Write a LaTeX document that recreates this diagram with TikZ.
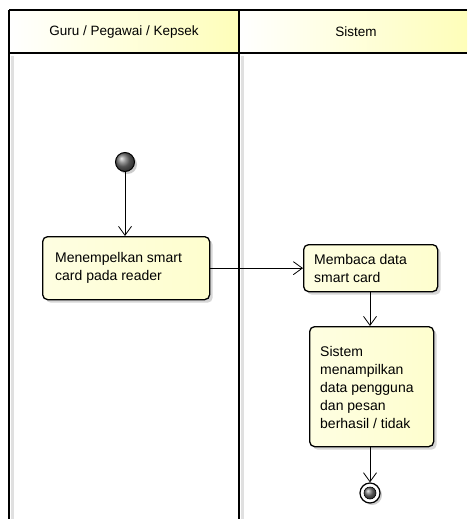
\documentclass[tikz,border=0pt]{standalone}
\usepackage{fontspec}
\setmainfont{Liberation Sans}
\usetikzlibrary{arrows.meta,shadows,positioning}
\definecolor{umlyellow}{HTML}{FEFECE}
\tikzset{
  lane/.style={line width=1.8pt,black},
  hdr/.style={left color=white,right color=umlyellow!90!yellow,draw=none},
  act/.style={draw=black,line width=1.3pt,rounded corners=5pt,left color=umlyellow!60,right color=umlyellow,
     align=left,anchor=north west,inner sep=0pt,
     drop shadow={shadow xshift=3pt,shadow yshift=-3pt,fill=black!20,opacity=0.8}},
  txt/.style={anchor=north west,align=left,inner sep=0pt,font=\fontsize{14}{18}\selectfont},
  flow/.style={-{Straight Barb[length=9pt,width=13pt,line width=0.8pt]},line width=0.8pt,black},
  lbl/.style={font=\fontsize{13.5}{16}\selectfont}
}
\begin{document}
\begin{tikzpicture}[x=1pt,y=-1pt]
\useasboundingbox (0,0) rectangle (467,519);
% headers
\fill[hdr] (9,10) rectangle (239,53);
\fill[hdr] (239,10) rectangle (467,53);
\node[lbl] (h1) at (124,32) {Guru / Pegawai / Kepsek};
\node[lbl] (h2) at (356,32) {Sistem};
% lane lines
\draw[line width=3pt,black!12] (12,56) -- (12,519);
\draw[line width=3pt,black!12] (242,56) -- (242,519);
\draw[lane] (9,10) -- (467,10);
\draw[lane] (9,53) -- (467,53);
\draw[lane] (9,10) -- (9,519);
\draw[lane] (239,10) -- (239,519);
% start node
\fill[black!20] (127.5,164.5) circle (9.5pt);
\node[circle,draw=black,line width=1pt,minimum size=19pt,inner sep=0pt,ball color=black!55] (start) at (125,162) {};
% activities
\node[act,minimum width=167pt,minimum height=63pt] (a1) at (42,236) {};
\node[txt] (t1) at (55,252) {Menempelkan smart\\card pada reader};
\node[act,minimum width=134pt,minimum height=47pt] (a2) at (303,244) {};
\node[txt] (t2) at (314,254) {Membaca data\\smart card};
\node[act,minimum width=124pt,minimum height=120pt] (a3) at (309,326) {};
\node[txt] (t3) at (320,346) {Sistem\\menampilkan\\data pengguna\\dan pesan\\berhasil / tidak};
% end node
\fill[black!20] (372,495) circle (10pt);
\node[circle,draw=black,line width=1.2pt,fill=white,minimum size=20pt,inner sep=0pt] (end) at (370,493) {};
\node[circle,draw=black,line width=0.6pt,minimum size=12pt,inner sep=0pt,ball color=black!55] (endin) at (370,493) {};
% flows
\draw[flow] (start) -- (a1.north -| start);
\draw[flow] (a1.east) -- (a1.east -| a2.west);
\draw[flow] (a2.south -| end) -- (a3.north -| end);
\draw[flow] (a3.south -| end) -- (end);
\end{tikzpicture}
\end{document}
